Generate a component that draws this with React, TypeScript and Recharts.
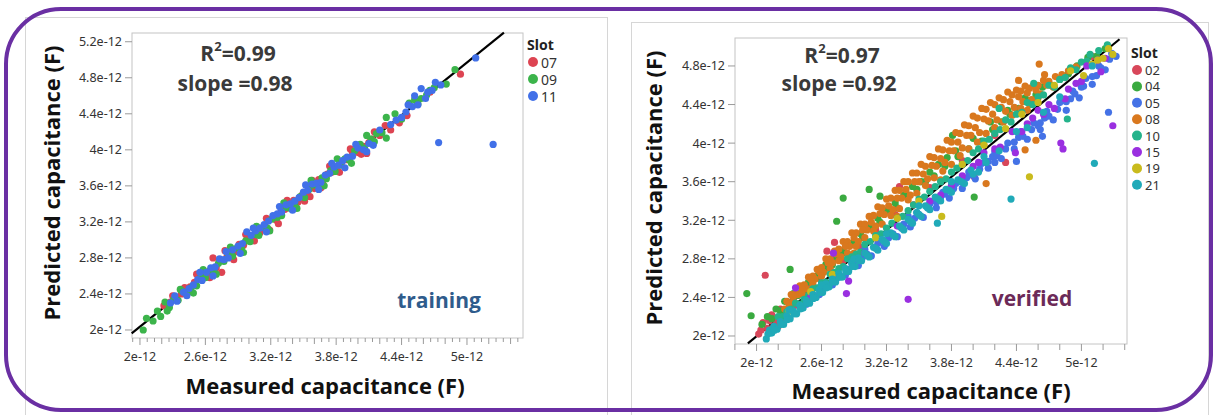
import React from 'react';
import { ScatterChart, Scatter, XAxis, YAxis, ReferenceLine } from 'recharts';

// all capacitances are in pF (x1e-12 F); tick labels print them as "...e-12"

const trainSlots = ['07', '09', '11'];
const trainColors = ['#dd4452', '#3cb44b', '#4170e8'];

const train07: [number, number][] = [
  [2.22, 2.27], [2.28, 2.31], [2.33, 2.36], [2.38, 2.40], [2.41, 2.47], [2.46, 2.48], [2.50, 2.53], [2.55, 2.57],
  [2.58, 2.63], [2.62, 2.62], [2.67, 2.80], [2.70, 2.69], [2.73, 2.77], [2.75, 2.64], [2.80, 2.82], [2.84, 2.85],
  [2.88, 2.87], [2.91, 2.95], [2.95, 2.94], [2.99, 3.01], [3.03, 3.04], [3.07, 3.12], [3.10, 3.08], [3.14, 3.15],
  [3.19, 3.11], [3.22, 3.24], [3.25, 3.22], [3.29, 3.30], [3.33, 3.34], [3.37, 3.36], [3.41, 3.44], [3.45, 3.42],
  [3.49, 3.50], [3.53, 3.52], [3.56, 3.48], [3.60, 3.57], [3.64, 3.67], [3.68, 3.66], [3.72, 3.73], [3.76, 3.75],
  [3.80, 3.80], [3.85, 3.86], [3.90, 3.89], [3.95, 3.97], [4.00, 3.97], [4.05, 4.04], [4.08, 3.96], [4.10, 4.08],
  [4.15, 4.20], [4.20, 4.16], [4.36, 4.32], [4.38, 4.30], [4.45, 4.38], [4.66, 4.64], [4.94, 4.84],
  [2.30, 2.38], [2.44, 2.42], [2.52, 2.62], [2.64, 2.58], [2.78, 2.88], [2.86, 2.78], [2.97, 3.06], [3.05, 2.99],
  [3.16, 3.24], [3.27, 3.18], [3.35, 3.44], [3.43, 3.36], [3.51, 3.43], [3.58, 3.66], [3.66, 3.58], [3.74, 3.82],
  [3.83, 3.75], [3.93, 4.01], [4.03, 3.95], [4.13, 4.12], [4.25, 4.27], [4.30, 4.22],
];
const train09: [number, number][] = [
  [2.03, 2.00], [2.06, 2.13], [2.12, 2.10], [2.19, 2.15], [2.23, 2.31], [2.27, 2.25], [2.31, 2.34], [2.35, 2.33],
  [2.39, 2.43], [2.43, 2.40], [2.47, 2.47], [2.52, 2.49], [2.56, 2.59], [2.60, 2.58], [2.64, 2.66], [2.68, 2.64],
  [2.72, 2.74], [2.77, 2.76], [2.81, 2.84], [2.85, 2.82], [2.89, 2.91], [2.93, 2.90], [2.97, 2.99], [3.01, 2.98],
  [3.05, 3.06], [3.09, 3.05], [3.13, 3.14], [3.17, 3.13], [3.21, 3.23], [3.26, 3.25], [3.30, 3.27], [3.34, 3.36],
  [3.38, 3.35], [3.42, 3.41], [3.47, 3.48], [3.51, 3.47], [3.55, 3.56], [3.59, 3.61], [3.63, 3.60], [3.67, 3.69],
  [3.71, 3.68], [3.75, 3.77], [3.79, 3.76], [3.84, 3.83], [3.88, 3.90], [3.92, 3.89], [3.97, 3.99], [4.02, 4.06],
  [4.06, 4.02], [4.12, 4.12], [4.17, 4.18], [4.22, 4.19], [4.26, 4.13], [4.26, 4.36], [4.47, 4.52], [4.52, 4.56],
  [4.58, 4.57], [4.63, 4.61], [4.70, 4.69], [4.81, 4.73], [4.89, 4.89],
  [2.16, 2.21], [2.25, 2.21], [2.37, 2.45], [2.49, 2.41], [2.58, 2.67], [2.70, 2.62], [2.83, 2.92], [2.95, 2.86],
  [3.07, 3.15], [3.19, 3.10], [3.32, 3.41], [3.44, 3.35], [3.57, 3.66], [3.69, 3.60], [3.81, 3.90], [3.94, 3.85],
  [4.08, 4.16], [4.15, 4.09], [4.34, 4.40], [4.40, 4.34], [4.55, 4.51], [4.66, 4.66],
];
const train11: [number, number][] = [
  [2.28, 2.30], [2.34, 2.32], [2.40, 2.42], [2.45, 2.46], [2.49, 2.50], [2.53, 2.56], [2.57, 2.55], [2.61, 2.64],
  [2.65, 2.69], [2.69, 2.70], [2.73, 2.79], [2.77, 2.78], [2.81, 2.80], [2.85, 2.89], [2.90, 2.93], [2.94, 2.96],
  [2.98, 3.09], [3.02, 3.05], [3.06, 3.10], [3.10, 3.13], [3.14, 3.17], [3.18, 3.21], [3.22, 3.27], [3.26, 3.29],
  [3.30, 3.31], [3.34, 3.39], [3.38, 3.40], [3.42, 3.43], [3.46, 3.47], [3.50, 3.53], [3.54, 3.55], [3.58, 3.62],
  [3.62, 3.63], [3.66, 3.64], [3.70, 3.72], [3.74, 3.74], [3.78, 3.81], [3.82, 3.83], [3.86, 3.88], [3.90, 3.92],
  [3.95, 3.93], [4.00, 4.02], [4.05, 4.00], [4.10, 4.07], [4.14, 4.05], [4.35, 4.33], [4.40, 4.36], [4.44, 4.42],
  [4.50, 4.48], [4.52, 4.60], [4.58, 4.68], [4.62, 4.57], [4.68, 4.66], [4.71, 4.75], [4.76, 4.72], [5.08, 5.02],
  [4.74, 4.08], [5.24, 4.06],
  [2.32, 2.38], [2.43, 2.38], [2.55, 2.64], [2.67, 2.60], [2.79, 2.87], [2.92, 2.85], [3.04, 3.13], [3.16, 3.09],
  [3.28, 3.37], [3.40, 3.33], [3.52, 3.61], [3.64, 3.56], [3.76, 3.85], [3.88, 3.80], [3.98, 4.06], [4.08, 3.98],
  [4.20, 4.22], [4.30, 4.28], [4.46, 4.50], [4.55, 4.50], [4.64, 4.64],
];
const trainFit: [number, number][] = [[1.924, 1.963], [5.339, 5.3]];

const verifySlots = ['02', '04', '05', '08', '10', '15', '19', '21'];
const verifyColors = ['#d8475a', '#3aaa40', '#4472e6', '#d9781e', '#24b38b', '#9a2fe0', '#c9bb1d', '#20aab8'];

const verify02: [number, number][] = [
  [2.02, 2.02], [2.06, 2.14], [2.08, 2.63], [2.10, 2.08], [2.14, 2.22], [2.18, 2.16], [2.20, 2.10], [2.22, 2.28],
  [2.26, 2.22], [2.30, 2.34], [2.36, 2.32], [2.42, 2.46], [2.50, 2.52], [2.58, 2.60], [2.65, 2.88], [2.72, 2.97],
  [2.80, 2.78], [2.96, 2.92], [3.10, 3.10], [3.28, 3.26], [3.32, 3.55], [3.45, 3.36], [3.60, 3.54], [3.90, 3.82],
  [4.01, 3.65], [4.20, 4.08], [4.30, 3.80], [4.55, 4.42], [4.85, 4.68], [5.10, 4.90], [2.04, 2.06], [2.12, 2.16],
  [2.16, 2.10], [2.24, 2.18], [2.34, 2.38], [2.46, 2.44],
];
const verify04: [number, number][] = [
  [1.91, 2.44], [1.95, 2.21], [2.05, 2.12], [2.10, 2.20], [2.14, 2.18], [2.18, 2.28], [2.22, 2.26], [2.26, 2.36],
  [2.30, 2.35], [2.31, 2.69], [2.34, 2.44], [2.38, 2.42], [2.42, 2.50], [2.46, 2.48], [2.52, 2.58], [2.58, 2.62],
  [2.64, 2.70], [2.70, 2.74], [2.74, 3.19], [2.76, 2.84], [2.80, 3.43], [2.82, 2.86], [2.90, 2.96], [2.98, 3.02],
  [3.04, 3.52], [3.06, 3.14], [3.14, 3.18], [3.14, 3.45], [3.22, 3.30], [3.30, 3.33], [3.40, 3.46], [3.48, 3.52],
  [3.56, 3.60], [3.64, 3.66], [3.74, 3.76], [3.81, 4.08], [3.86, 3.86], [3.96, 3.94], [4.01, 3.44], [4.08, 4.02],
  [4.18, 4.14], [4.26, 4.22], [4.34, 4.30], [4.42, 4.36], [4.50, 4.44], [4.58, 4.50], [4.64, 4.58], [4.72, 4.60],
  [4.80, 4.66], [4.88, 4.72], [4.96, 4.80], [5.06, 4.89], [5.14, 4.90], [5.22, 4.98], [2.40, 2.44], [2.56, 2.62],
  [2.72, 2.80], [2.88, 2.96], [3.04, 3.13], [3.20, 3.30], [3.36, 3.46], [3.52, 3.60], [3.68, 3.78], [3.84, 3.92],
  [4.00, 4.05], [4.16, 4.22], [4.32, 4.34], [4.48, 4.47], [2.48, 2.56], [2.64, 2.74], [2.80, 2.88], [2.96, 3.06],
  [3.12, 3.22], [3.28, 3.38], [3.44, 3.55], [3.60, 3.70], [3.76, 3.85],
];
const verify05: [number, number][] = [
  [2.40, 2.31], [2.46, 2.33], [2.52, 2.43], [2.58, 2.43], [2.64, 2.53], [2.70, 2.53], [2.76, 2.63], [2.82, 2.63],
  [2.88, 2.75], [2.94, 2.73], [3.00, 2.84], [3.06, 2.83], [3.12, 2.96], [3.18, 2.93], [3.24, 3.06], [3.30, 3.03],
  [3.36, 3.16], [3.42, 3.13], [3.48, 3.28], [3.54, 3.23], [3.60, 3.37], [3.66, 3.33], [3.72, 3.49], [3.78, 3.43],
  [3.84, 3.58], [3.90, 3.53], [3.96, 3.70], [4.02, 3.63], [4.08, 3.79], [4.14, 3.74], [4.20, 3.91], [4.26, 3.84],
  [4.32, 4.00], [4.38, 3.94], [4.44, 4.12], [4.50, 4.04], [4.56, 4.21], [4.62, 4.14], [4.68, 4.33], [4.74, 4.24],
  [4.80, 4.42], [4.86, 4.34], [4.92, 4.54], [4.98, 4.47], [5.04, 4.67], [5.10, 4.61], [5.16, 4.80], [5.22, 4.76],
  [5.28, 4.93], [5.32, 4.90], [2.50, 2.40], [2.74, 2.60], [2.98, 2.82], [3.22, 3.02], [3.46, 3.22], [3.70, 3.44],
  [3.94, 3.64], [4.18, 3.86], [4.42, 4.06], [4.66, 4.26], [4.90, 4.46], [5.14, 4.70], [3.00, 2.90], [3.40, 3.24],
  [3.80, 3.56], [4.20, 3.80], [4.60, 4.18], [5.00, 4.58], [4.40, 3.81], [4.64, 4.07], [5.25, 4.32],
  [2.44, 2.35], [2.52, 2.42], [2.60, 2.49], [2.68, 2.55], [2.76, 2.63], [2.84, 2.69], [2.92, 2.76], [3.02, 2.85],
  [3.10, 2.92], [3.18, 2.98], [3.26, 3.06], [3.34, 3.12], [3.42, 3.19], [3.50, 3.26], [3.58, 3.33], [3.66, 3.39],
  [3.74, 3.47], [3.82, 3.53], [3.90, 3.60], [3.98, 3.67], [4.06, 3.73], [4.14, 3.81], [4.22, 3.87], [4.30, 3.94],
  [4.38, 4.01], [4.46, 4.07], [4.54, 4.14], [4.62, 4.21], [4.70, 4.28], [4.78, 4.35], [4.86, 4.43], [4.94, 4.51],
  [5.02, 4.59], [5.10, 4.69], [5.18, 4.78], [5.26, 4.87],
];
const verify08: [number, number][] = [
  [2.28, 2.36], [2.32, 2.43], [2.36, 2.44], [2.40, 2.52], [2.44, 2.53], [2.48, 2.61], [2.52, 2.62], [2.56, 2.69],
  [2.60, 2.71], [2.64, 2.80], [2.68, 2.80], [2.72, 2.88], [2.76, 2.90], [2.80, 2.98], [2.84, 2.98], [2.88, 3.07],
  [2.92, 3.07], [2.96, 3.16], [3.00, 3.16], [3.04, 3.24], [3.08, 3.25], [3.12, 3.34], [3.16, 3.33], [3.20, 3.42],
  [3.24, 3.43], [3.28, 3.51], [3.32, 3.51], [3.36, 3.60], [3.40, 3.60], [3.44, 3.69], [3.48, 3.69], [3.52, 3.78],
  [3.56, 3.76], [3.60, 3.86], [3.64, 3.85], [3.68, 3.94], [3.72, 3.93], [3.76, 4.03], [3.80, 4.01], [3.84, 4.11],
  [3.88, 4.10], [3.92, 4.19], [3.96, 4.18], [4.00, 4.28], [4.04, 4.26], [4.08, 4.36], [4.12, 4.35], [4.16, 4.42],
  [4.20, 4.40], [4.24, 4.47], [4.28, 4.45], [4.32, 4.53], [4.36, 4.50], [4.40, 4.55], [4.44, 4.54], [4.48, 4.59],
  [4.52, 4.57], [4.56, 4.60], [4.60, 4.60], [4.65, 4.65], [4.70, 4.64], [4.76, 4.69], [4.82, 4.71], [4.88, 4.75],
  [4.95, 4.79], [2.30, 2.33], [2.38, 2.43], [2.46, 2.49], [2.54, 2.59], [2.62, 2.66], [2.70, 2.76], [2.78, 2.82],
  [2.86, 2.93], [2.94, 2.98], [3.02, 3.10], [3.10, 3.14], [3.18, 3.26], [3.26, 3.31], [3.34, 3.43], [3.42, 3.46],
  [3.50, 3.60], [3.58, 3.63], [3.66, 3.76], [3.74, 3.80], [3.82, 3.92], [3.90, 3.95], [3.98, 4.08], [4.06, 4.11],
  [4.14, 4.23], [4.22, 4.24], [4.30, 4.33], [4.38, 4.37], [4.46, 4.43], [4.54, 4.45], [4.62, 4.51], [4.74, 4.58],
  [2.50, 2.48], [2.90, 2.86], [3.30, 3.24], [3.70, 3.62], [4.10, 3.98], [4.50, 4.34], [4.61, 4.82], [4.66, 4.71],
  [4.42, 4.65], [4.12, 3.58], [4.48, 3.93], [4.58, 4.03],
  [2.34, 2.41], [2.42, 2.49], [2.50, 2.59], [2.58, 2.67], [2.66, 2.76], [2.74, 2.85], [2.82, 2.93], [2.90, 3.02],
  [2.98, 3.10], [3.06, 3.18], [3.14, 3.27], [3.22, 3.35], [3.30, 3.43], [3.38, 3.52], [3.46, 3.60], [3.54, 3.68],
  [3.62, 3.77], [3.70, 3.84], [3.78, 3.92], [3.86, 4.01], [3.94, 4.08], [4.02, 4.16], [4.10, 4.25], [4.18, 4.30],
  [4.26, 4.37], [4.34, 4.43], [4.42, 4.48], [4.50, 4.52], [4.58, 4.55], [4.68, 4.60],
  [2.26, 2.28], [2.34, 2.36], [2.42, 2.44], [2.52, 2.54], [2.60, 2.62], [2.68, 2.70], [2.76, 2.78], [2.84, 2.86],
  [2.92, 2.93], [3.00, 3.02], [3.08, 3.09], [3.16, 3.16], [3.24, 3.25], [3.32, 3.32], [3.40, 3.41], [3.48, 3.48],
  [3.56, 3.56], [3.64, 3.64], [3.72, 3.71], [3.80, 3.78], [3.88, 3.87], [3.96, 3.94], [4.04, 4.01], [4.12, 4.10],
  [4.20, 4.16], [4.28, 4.22], [4.36, 4.29], [4.44, 4.36], [4.52, 4.40], [4.60, 4.47],
];
const verify10: [number, number][] = [
  [2.20, 2.20], [2.28, 2.25], [2.36, 2.34], [2.44, 2.38], [2.52, 2.49], [2.60, 2.55], [2.68, 2.64], [2.76, 2.70],
  [2.84, 2.80], [2.92, 2.85], [3.00, 2.95], [3.10, 3.04], [3.20, 3.12], [3.30, 3.22], [3.40, 3.30], [3.50, 3.42],
  [3.60, 3.50], [3.70, 3.60], [3.80, 3.70], [3.90, 3.78], [4.00, 3.90], [4.10, 4.02], [4.20, 4.10], [4.30, 4.24],
  [4.40, 4.30], [4.50, 4.42], [4.60, 4.48], [4.70, 4.60], [4.80, 4.66], [4.90, 4.78], [5.00, 4.84], [5.08, 4.92],
  [5.16, 4.96], [5.24, 5.02], [4.87, 4.25], [4.56, 4.62], [4.24, 4.36],
  [2.24, 2.20], [2.32, 2.28], [2.40, 2.33], [2.48, 2.42], [2.56, 2.50], [2.64, 2.56], [2.72, 2.66], [2.80, 2.72],
  [2.88, 2.82], [2.96, 2.87], [3.05, 2.98], [3.15, 3.06], [3.25, 3.17], [3.35, 3.24], [3.45, 3.36], [3.55, 3.44],
  [3.65, 3.55], [3.75, 3.63], [3.85, 3.74], [3.95, 3.82], [4.05, 3.94], [4.15, 4.04], [4.25, 4.14], [4.35, 4.22],
  [4.45, 4.32], [4.55, 4.40], [4.65, 4.50], [4.75, 4.58], [4.85, 4.68], [4.95, 4.76], [5.05, 4.85],
];
const verify15: [number, number][] = [
  [3.40, 2.38], [2.83, 2.44], [2.85, 2.57], [2.36, 2.50], [2.71, 2.86], [4.39, 3.90], [4.81, 4.00], [4.83, 3.94],
  [5.29, 4.18], [3.60, 3.40], [3.80, 3.56], [4.00, 3.76], [4.20, 3.94], [4.50, 4.20], [4.70, 4.40], [4.95, 4.62],
  [5.05, 4.80], [3.30, 3.14], [3.00, 2.86], [2.50, 2.40], [4.60, 4.34], [5.15, 4.86], [4.10, 3.90], [4.36, 4.12],
  [5.22, 4.88], [4.88, 4.56], [3.90, 3.66], [4.25, 3.96], [4.45, 4.12], [4.65, 4.30], [4.85, 4.46], [5.00, 4.64],
  [3.70, 3.46], [4.05, 3.80], [5.18, 4.74], [4.75, 4.36], [4.55, 4.26],
];
const verify19: [number, number][] = [
  [4.52, 3.65], [3.71, 3.24], [5.29, 4.92], [5.20, 4.88], [5.15, 4.86], [4.90, 4.75], [4.60, 4.42], [4.30, 4.15],
  [3.90, 3.78], [3.50, 3.40], [3.10, 3.02], [2.70, 2.64], [2.30, 2.26], [4.10, 3.98], [4.75, 4.60], [5.02, 4.70],
  [5.10, 4.82], [5.25, 4.98], [4.45, 4.30], [3.30, 3.22], [2.50, 2.46],
];
const verify21: [number, number][] = [
  [2.09, 1.97], [2.12, 2.06], [2.14, 2.03], [2.16, 2.10], [2.19, 2.07], [2.22, 2.15], [2.25, 2.12], [2.28, 2.21],
  [2.31, 2.18], [2.34, 2.26], [2.37, 2.23], [2.40, 2.32], [2.43, 2.29], [2.46, 2.37], [2.49, 2.34], [2.52, 2.43],
  [2.55, 2.40], [2.58, 2.48], [2.61, 2.45], [2.64, 2.54], [2.67, 2.51], [2.70, 2.59], [2.73, 2.56], [2.76, 2.65],
  [2.79, 2.61], [2.82, 2.70], [2.85, 2.67], [2.88, 2.76], [2.91, 2.72], [2.94, 2.81], [2.97, 2.78], [3.00, 2.86],
  [3.04, 2.82], [3.08, 2.92], [3.12, 2.89], [3.16, 3.00], [3.20, 2.96], [3.24, 3.07], [3.28, 3.03], [3.32, 3.14],
  [3.36, 3.10], [3.40, 3.21], [3.44, 3.17], [3.48, 3.28], [3.52, 3.24], [3.56, 3.35], [3.60, 3.31], [3.65, 3.44],
  [3.70, 3.40], [3.75, 3.52], [3.80, 3.49], [3.86, 3.62], [3.92, 3.58], [3.98, 3.72], [4.05, 3.70], [2.30, 2.27],
  [2.60, 2.53], [2.90, 2.80], [3.20, 3.06], [3.50, 3.35], [3.80, 3.60], [4.10, 3.86], [4.40, 4.12], [4.80, 4.48],
  [5.10, 4.80], [3.67, 3.17], [4.35, 3.42], [5.12, 3.79],
  [2.105, 2.02], [2.165, 2.06], [2.225, 2.12], [2.285, 2.17], [2.345, 2.23], [2.405, 2.28], [2.465, 2.34],
  [2.525, 2.39], [2.585, 2.45], [2.645, 2.50], [2.705, 2.56], [2.765, 2.61], [2.825, 2.67], [2.885, 2.72],
  [2.945, 2.78], [3.02, 2.84], [3.10, 2.91], [3.18, 2.98], [3.26, 3.05], [3.34, 3.12], [3.42, 3.19], [3.50, 3.26],
  [3.58, 3.33], [3.68, 3.42], [3.78, 3.51], [3.89, 3.60], [4.00, 3.68], [4.12, 3.80], [4.24, 3.92], [4.50, 4.16],
  [4.65, 4.32],
];
const verifyFit: [number, number][] = [[1.92, 1.924], [5.352, 5.077]];

const trainYTicks = [2, 2.4, 2.8, 3.2, 3.6, 4, 4.4, 4.8, 5.2];
const verifyYTicks = [2, 2.4, 2.8, 3.2, 3.6, 4, 4.4, 4.8];
const xLabelTicks = [2, 2.6, 3.2, 3.8, 4.4, 5];
const trainXTicks = Array.from({ length: 54 }, (_, i) => (29 + i) / 15);
const verifyXTicks = Array.from({ length: 19 }, (_, i) => (9 + i) / 5);

const tickFont = '"Noto Sans", "DejaVu Sans", sans-serif';
const titleFont = '"Open Sans", "Noto Sans", sans-serif';

const fmt = (v: number) => `${parseFloat(v.toFixed(1))}e-12`;
const toPoints = (arr: [number, number][]) => arr.map(([x, y]) => ({ x, y }));

const trainSeries = [train07, train09, train11];
const verifySeries = [verify02, verify04, verify05, verify08, verify10, verify15, verify19, verify21];

interface PanelProps {
  left: number;
  width: number;
  plot: { l: number; t: number; r: number; b: number };
  xDomain: [number, number];
  yDomain: [number, number];
  xTicks: number[];
  yTicks: number[];
  series: [number, number][][];
  colors: string[];
  fit: [number, number][];
}

const H = 415;

const Panel: React.FC<PanelProps> = ({ left, width, plot, xDomain, yDomain, xTicks, yTicks, series, colors, fit }) => {
  const XTick = (p: any) => {
    const v = p.payload.value;
    const labelled = xLabelTicks.some((t) => Math.abs(t - v) < 1e-6);
    const mid = Math.abs(v * 5 - Math.round(v * 5)) < 1e-6;
    const len = labelled ? 7 : mid ? 6 : 4;
    return (
      <g>
        <line x1={p.x} x2={p.x} y1={plot.b} y2={plot.b + len} stroke="#9a9a9a" />
        {labelled && (
          <text x={p.x} y={plot.b + 23} textAnchor="middle" fontSize={12.5} fill="#333" fontFamily={tickFont}>
            {fmt(v)}
          </text>
        )}
      </g>
    );
  };

  return (
    <div style={{ position: 'absolute', left, top: 0 }}>
      <ScatterChart
        width={width}
        height={H}
        margin={{ top: plot.t, right: width - plot.r, left: 0, bottom: 0 }}
      >
        <XAxis
          type="number"
          dataKey="x"
          domain={xDomain}
          ticks={xTicks}
          interval={0}
          allowDataOverflow
          height={H - plot.b}
          axisLine={false}
          tickLine={false}
          tick={XTick}
        />
        <YAxis
          type="number"
          dataKey="y"
          domain={yDomain}
          ticks={yTicks}
          interval={0}
          allowDataOverflow
          width={plot.l}
          axisLine={false}
          tickSize={7}
          tickMargin={3}
          tickLine={{ stroke: '#9a9a9a' }}
          tickFormatter={fmt}
          tick={{ fill: '#333', fontSize: 12.5, fontFamily: tickFont }}
        />
        {series.map((pts, i) => (
          <Scatter
            key={i}
            data={toPoints(pts)}
            fill={colors[i]}
            isAnimationActive={false}
            shape={(s: any) => <circle cx={s.cx} cy={s.cy} r={3.6} fill={colors[i]} />}
          />
        ))}
        <ReferenceLine
          segment={[{ x: fit[0][0], y: fit[0][1] }, { x: fit[1][0], y: fit[1][1] }]}
          stroke="#000"
          strokeWidth={2.2}
          ifOverflow="visible"
        />
      </ScatterChart>
    </div>
  );
};

const Legend: React.FC<{ x: number; y: number; step: number; size: number; slots: string[]; colors: string[] }> = ({ x, y, step, size, slots, colors }) => (
  <g fontFamily={tickFont}>
    <text x={x - 6} y={y - 12} fontSize={14} fontWeight={700} fill="#222">Slot</text>
    {slots.map((s, i) => (
      <g key={s}>
        <circle cx={x} cy={y + i * step} r={5} fill={colors[i]} />
        <text x={x + 8} y={y + i * step} dominantBaseline="central" fontSize={size} fill="#333">{s}</text>
      </g>
    ))}
  </g>
);

export default function App() {
  return (
    <div style={{ position: 'absolute', left: 0, top: 0, width: 1214, height: H, background: '#fff', overflow: 'hidden' }}>
      <svg width={1214} height={H} style={{ position: 'absolute', left: 0, top: 0 }}>
        <rect x={25.5} y={17.5} width={582} height={400} fill="none" stroke="#d6d6d6" />
        <rect x={631.5} y={22.5} width={577} height={400} fill="none" stroke="#d6d6d6" />
        <rect x={132} y={33} width={391} height={305} fill="none" stroke="#c4c4c4" />
        <rect x={735} y={38} width={392} height={306} fill="none" stroke="#c4c4c4" />
      </svg>

      <Panel
        left={0}
        width={610}
        plot={{ l: 132, t: 33, r: 523, b: 338 }}
        xDomain={[1.927, 5.514]}
        yDomain={[1.911, 5.297]}
        xTicks={trainXTicks}
        yTicks={trainYTicks}
        series={trainSeries}
        colors={trainColors}
        fit={trainFit}
      />
      <Panel
        left={610}
        width={604}
        plot={{ l: 125, t: 38, r: 517, b: 344 }}
        xDomain={[1.801, 5.421]}
        yDomain={[1.917, 5.09]}
        xTicks={verifyXTicks}
        yTicks={verifyYTicks}
        series={verifySeries}
        colors={verifyColors}
        fit={verifyFit}
      />

      <svg width={1214} height={H} style={{ position: 'absolute', left: 0, top: 0, pointerEvents: 'none' }}>
        <g fontFamily={titleFont} fontWeight={700}>
          <text x={238} y={53} textAnchor="middle" dominantBaseline="central" fontSize={21} fill="#3a3a3a">
            R<tspan dy={-7} fontSize={13}>2</tspan><tspan dy={7}>=0.99</tspan>
          </text>
          <text x={235} y={83} textAnchor="middle" dominantBaseline="central" fontSize={21} fill="#3a3a3a">slope =0.98</text>
          <text x={439} y={300} textAnchor="middle" dominantBaseline="central" fontSize={21} fill="#2f5c8c">training</text>
          <text x={842} y={55} textAnchor="middle" dominantBaseline="central" fontSize={21} fill="#3a3a3a">
            R<tspan dy={-7} fontSize={13}>2</tspan><tspan dy={7}>=0.97</tspan>
          </text>
          <text x={839} y={83} textAnchor="middle" dominantBaseline="central" fontSize={21} fill="#3a3a3a">slope =0.92</text>
          <text x={1032} y={298} textAnchor="middle" dominantBaseline="central" fontSize={21} fill="#6c2a58">verified</text>

          <text x={325} y={385} textAnchor="middle" dominantBaseline="central" fontSize={22} fill="#111">Measured capacitance (F)</text>
          <text x={931} y={390} textAnchor="middle" dominantBaseline="central" fontSize={22} fill="#111">Measured capacitance (F)</text>
          <text transform="translate(51,183) rotate(-90)" textAnchor="middle" dominantBaseline="central" fontSize={22} fill="#111">
            Predicted capacitance (F)
          </text>
          <text transform="translate(653,188) rotate(-90)" textAnchor="middle" dominantBaseline="central" fontSize={22} fill="#111">
            Predicted capacitance (F)
          </text>
        </g>

        <Legend x={533} y={62} step={17} size={14} slots={trainSlots} colors={trainColors} />
        <Legend x={1137} y={70} step={16.4} size={13} slots={verifySlots} colors={verifyColors} />

        <rect x={6} y={9} width={1205} height={401} rx={55} ry={55} fill="none" stroke="#6a2fa3" strokeWidth={4} />
      </svg>
    </div>
  );
}
